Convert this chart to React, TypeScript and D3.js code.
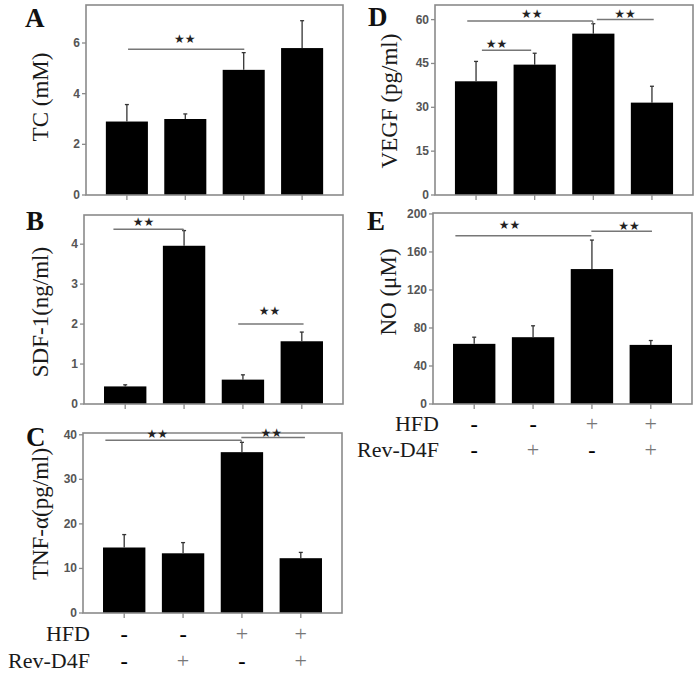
import React from "react";
import * as d3 from "d3";

const groups = ["g1", "g2", "g3", "g4"];
const hfdSigns = ["-", "-", "+", "+"];
const revSigns = ["-", "+", "-", "+"];

const tcMean = [2.9, 3.0, 4.94, 5.8];
const tcErr = [0.67, 0.2, 0.68, 1.08];
const tcTicks = [0, 2, 4, 6];

const sdfMean = [0.44, 3.96, 0.61, 1.57];
const sdfErr = [0.04, 0.38, 0.12, 0.23];
const sdfTicks = [0, 1, 2, 3, 4];

const tnfMean = [14.7, 13.4, 36.1, 12.3];
const tnfErr = [2.9, 2.4, 2.2, 1.3];
const tnfTicks = [0, 10, 20, 30, 40];

const vegfMean = [38.9, 44.6, 55.2, 31.6];
const vegfErr = [6.8, 3.9, 3.4, 5.6];
const vegfTicks = [0, 15, 30, 45, 60];

const noMean = [63.3, 70.3, 142, 62.2];
const noErr = [7, 12, 30.5, 4.6];
const noTicks = [0, 40, 80, 120, 160, 200];

// significance brackets: x in fractional group index, y in data units
type Bracket = { x1: number; x2: number; y: number; sx: number; sy: number; drop?: number };
const tcBrackets: Bracket[] = [{ x1: 0.02, x2: 2.01, y: 5.75, sx: 0.99, sy: 6.16 }];
const sdfBrackets: Bracket[] = [
  { x1: -0.2, x2: 0.99, y: 4.375, sx: 0.31, sy: 4.55, drop: 1 },
  { x1: 1.92, x2: 3.03, y: 2.0, sx: 2.45, sy: 2.33 },
];
const tnfBrackets: Bracket[] = [
  { x1: -0.32, x2: 1.99, y: 38.8, sx: 0.56, sy: 40.1, drop: 2 },
  { x1: 1.99, x2: 3.07, y: 39.4, sx: 2.5, sy: 40.4 },
];
const vegfBrackets: Bracket[] = [
  { x1: -0.15, x2: 1.99, y: 59.5, sx: 0.95, sy: 61.9, drop: 2 },
  { x1: 2.06, x2: 3.03, y: 60, sx: 2.54, sy: 61.9 },
  { x1: 0.1, x2: 0.94, y: 49.5, sx: 0.35, sy: 51.7 },
];
const noBrackets: Bracket[] = [
  { x1: -0.32, x2: 1.99, y: 177, sx: 0.6, sy: 188.8 },
  { x1: 1.99, x2: 3.02, y: 181.8, sx: 2.63, sy: 187.8 },
];

const SERIF = "'Liberation Serif', 'Times New Roman', serif";
const SANS = "'Liberation Sans', Arial, sans-serif";
const FRAME = "#8a8a8a";

type PanelCfg = {
  letter: string;
  label: string;
  mean: number[];
  err: number[];
  ticks: number[];
  max: number;
  l: number; r: number; t: number; b: number;
  labelX: number; labelY: number;
  letterX: number; letterY: number;
  brackets: Bracket[];
};

const panels: PanelCfg[] = [
  { letter: "A", label: "TC (mM)", mean: tcMean, err: tcErr, ticks: tcTicks, max: 7.5,
    l: 86, r: 343, t: 5, b: 195, labelX: 40, labelY: 97, letterX: 25, letterY: 27, brackets: tcBrackets },
  { letter: "B", label: "SDF-1(ng/ml)", mean: sdfMean, err: sdfErr, ticks: sdfTicks, max: 4.73,
    l: 84, r: 343, t: 215, b: 404, labelX: 40, labelY: 312, letterX: 26, letterY: 230, brackets: sdfBrackets },
  { letter: "C", label: "TNF-α(pg/ml)", mean: tnfMean, err: tnfErr, ticks: tnfTicks, max: 40.4,
    l: 83, r: 342, t: 433, b: 613, labelX: 40, labelY: 514, letterX: 26, letterY: 446, brackets: tnfBrackets },
  { letter: "D", label: "VEGF (pg/ml)", mean: vegfMean, err: vegfErr, ticks: vegfTicks, max: 65,
    l: 435, r: 693, t: 5, b: 195, labelX: 389, labelY: 101, letterX: 368, letterY: 26, brackets: vegfBrackets },
  { letter: "E", label: "NO (μM)", mean: noMean, err: noErr, ticks: noTicks, max: 201,
    l: 433, r: 692, t: 213, b: 404, labelX: 388, labelY: 292, letterX: 367, letterY: 230, brackets: noBrackets },
];

function Panel({ p }: { p: PanelCfg }) {
  const x = d3.scalePoint<string>().domain(groups).range([p.l, p.r]).padding(0.7);
  const y = d3.scaleLinear().domain([0, p.max]).range([p.b, p.t]);
  const step = x.step();
  const bw = step * 0.72;
  const fx = (f: number) => (x(groups[0]) as number) + f * step;
  return (
    <g>
      <text x={p.letterX} y={p.letterY} fontFamily={SERIF} fontWeight="bold" fontSize={27} fill="#111">
        {p.letter}
      </text>
      <text
        transform={`translate(${p.labelX},${p.labelY}) rotate(-90)`}
        textAnchor="middle"
        dominantBaseline="central"
        fontFamily={SERIF}
        fontSize={23}
        fill="#1a1a1a"
      >
        {p.label}
      </text>
      {p.mean.map((m, i) => {
        const cx = x(groups[i]) as number;
        return (
          <g key={i}>
            <rect x={cx - bw / 2} y={y(m)} width={bw} height={p.b - y(m)} fill="#000" />
            <line x1={cx} x2={cx} y1={y(m)} y2={y(m + p.err[i])} stroke="#333" strokeWidth={1.3} />
            <line x1={cx - 2} x2={cx + 2} y1={y(m + p.err[i])} y2={y(m + p.err[i])} stroke="#333" strokeWidth={1.3} />
            <line x1={cx} x2={cx} y1={p.b} y2={p.b + 5} stroke={FRAME} strokeWidth={1.3} />
          </g>
        );
      })}
      <rect x={p.l} y={p.t} width={p.r - p.l} height={p.b - p.t} fill="none" stroke={FRAME} strokeWidth={1.6} />
      {p.ticks.map((t) => (
        <g key={t}>
          <line x1={p.l - 4} x2={p.l} y1={y(t)} y2={y(t)} stroke={FRAME} strokeWidth={1.3} />
          <text
            x={p.l - 6}
            y={y(t)}
            textAnchor="end"
            dominantBaseline="central"
            fontFamily={SANS}
            fontWeight="bold"
            fontSize={12}
            fill="#555"
          >
            {t}
          </text>
        </g>
      ))}
      {p.brackets.map((br, k) => (
        <g key={k}>
          <line x1={fx(br.x1)} x2={fx(br.x2)} y1={y(br.y)} y2={y(br.y)} stroke="#777" strokeWidth={1.5} />
          {br.drop !== undefined && (
            <line
              x1={fx(br.x2)}
              x2={fx(br.x2)}
              y1={y(br.y)}
              y2={y(p.mean[br.drop] + p.err[br.drop])}
              stroke="#777"
              strokeWidth={1.3}
            />
          )}
          <text
            x={fx(br.sx)}
            y={y(br.sy)}
            textAnchor="middle"
            dominantBaseline="central"
            fontFamily="'DejaVu Sans', sans-serif"
            fontSize={12}
            fill="#222"
          >
            ★★
          </text>
        </g>
      ))}
    </g>
  );
}

function SignRows({ l, r, y1, y2, labelRight }: { l: number; r: number; y1: number; y2: number; labelRight: number }) {
  const x = d3.scalePoint<string>().domain(groups).range([l, r]).padding(0.7);
  const sign = (s: string, cx: number, cy: number, key: string) =>
    s === "+" ? (
      <text key={key} x={cx} y={cy} textAnchor="middle" dominantBaseline="central" fontFamily={SERIF} fontSize={22} fill="#777">
        +
      </text>
    ) : (
      <text key={key} x={cx} y={cy} textAnchor="middle" dominantBaseline="central" fontFamily={SERIF} fontWeight="bold" fontSize={22} fill="#000">
        -
      </text>
    );
  return (
    <g>
      <text x={labelRight} y={y1} textAnchor="end" dominantBaseline="central" fontFamily={SERIF} fontSize={22} fill="#1a1a1a">
        HFD
      </text>
      <text x={labelRight} y={y2} textAnchor="end" dominantBaseline="central" fontFamily={SERIF} fontSize={22} fill="#1a1a1a">
        Rev-D4F
      </text>
      {groups.map((g, i) => sign(hfdSigns[i], x(g) as number, y1, "h" + i))}
      {groups.map((g, i) => sign(revSigns[i], x(g) as number, y2, "r" + i))}
    </g>
  );
}

export default function App() {
  return (
    <svg
      width={700}
      height={677}
      style={{ position: "absolute", left: 0, top: 0, background: "#fff" }}
    >
      <rect x={0} y={0} width={700} height={677} fill="#fff" />
      {panels.map((p) => (
        <Panel key={p.letter} p={p} />
      ))}
      <SignRows l={83} r={342} y1={633} y2={660} labelRight={90} />
      <SignRows l={433} r={692} y1={423} y2={449} labelRight={439} />
    </svg>
  );
}
